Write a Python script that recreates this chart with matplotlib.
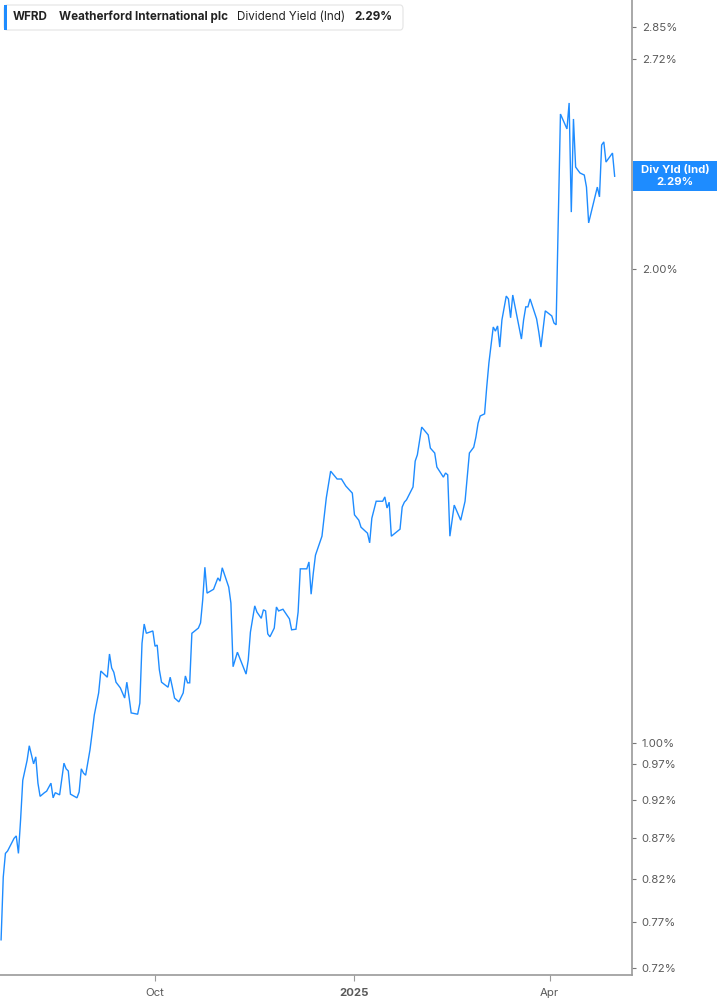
import matplotlib
matplotlib.use("Agg")
import matplotlib.pyplot as plt
import matplotlib.dates as mdates
from matplotlib.patches import FancyBboxPatch, Rectangle
from matplotlib.ticker import FixedLocator, NullLocator
import pandas as pd

plt.rcParams['font.family'] = ['Inter', 'DejaVu Sans']

# dividend yield (ind), percent
dates = [
    "2024-07-22", "2024-07-23", "2024-07-24", "2024-07-25", "2024-07-28", "2024-07-29",
    "2024-07-30", "2024-07-31", "2024-08-01", "2024-08-03", "2024-08-04", "2024-08-06",
    "2024-08-07", "2024-08-08", "2024-08-09", "2024-08-11", "2024-08-12", "2024-08-14",
    "2024-08-15", "2024-08-16", "2024-08-18", "2024-08-20", "2024-08-21", "2024-08-22",
    "2024-08-23", "2024-08-26", "2024-08-27", "2024-08-28", "2024-08-29", "2024-08-30",
    "2024-09-01", "2024-09-02", "2024-09-03", "2024-09-05", "2024-09-06", "2024-09-09",
    "2024-09-10", "2024-09-11", "2024-09-12", "2024-09-13", "2024-09-15", "2024-09-17",
    "2024-09-18", "2024-09-19", "2024-09-20", "2024-09-23", "2024-09-24", "2024-09-25",
    "2024-09-26", "2024-09-27", "2024-09-30", "2024-10-01", "2024-10-02", "2024-10-03",
    "2024-10-04", "2024-10-07", "2024-10-08", "2024-10-09", "2024-10-10", "2024-10-12",
    "2024-10-14", "2024-10-15", "2024-10-16", "2024-10-17", "2024-10-18", "2024-10-21",
    "2024-10-22", "2024-10-23", "2024-10-24", "2024-10-25", "2024-10-28", "2024-10-30",
    "2024-10-31", "2024-11-01", "2024-11-04", "2024-11-05", "2024-11-06", "2024-11-08",
    "2024-11-10", "2024-11-12", "2024-11-13", "2024-11-14", "2024-11-16", "2024-11-17",
    "2024-11-19", "2024-11-20", "2024-11-21", "2024-11-22", "2024-11-23", "2024-11-25",
    "2024-11-26", "2024-11-27", "2024-11-29", "2024-12-02", "2024-12-03", "2024-12-05",
    "2024-12-06", "2024-12-07", "2024-12-10", "2024-12-11", "2024-12-12", "2024-12-13",
    "2024-12-14", "2024-12-17", "2024-12-19", "2024-12-21", "2024-12-24", "2024-12-26",
    "2024-12-28", "2024-12-31", "2025-01-01", "2025-01-03", "2025-01-04", "2025-01-07",
    "2025-01-08", "2025-01-09", "2025-01-11", "2025-01-14", "2025-01-15", "2025-01-16",
    "2025-01-17", "2025-01-18", "2025-01-22", "2025-01-23", "2025-01-24", "2025-01-25",
    "2025-01-28", "2025-01-29", "2025-01-30", "2025-02-01", "2025-02-04", "2025-02-05",
    "2025-02-07", "2025-02-08", "2025-02-11", "2025-02-12", "2025-02-13", "2025-02-14",
    "2025-02-16", "2025-02-19", "2025-02-21", "2025-02-23", "2025-02-25", "2025-02-26",
    "2025-02-27", "2025-02-28", "2025-03-02", "2025-03-03", "2025-03-04", "2025-03-06",
    "2025-03-07", "2025-03-08", "2025-03-09", "2025-03-10", "2025-03-12", "2025-03-13",
    "2025-03-14", "2025-03-15", "2025-03-19", "2025-03-20", "2025-03-21", "2025-03-22",
    "2025-03-23", "2025-03-26", "2025-03-27", "2025-03-28", "2025-03-30", "2025-04-02",
    "2025-04-03", "2025-04-04", "2025-04-06", "2025-04-09", "2025-04-10", "2025-04-11",
    "2025-04-12", "2025-04-13", "2025-04-15", "2025-04-17", "2025-04-18", "2025-04-19",
    "2025-04-22", "2025-04-23", "2025-04-24", "2025-04-25", "2025-04-26", "2025-04-27",
    "2025-04-30", "2025-05-01",
]
yields = [
    0.750, 0.822, 0.851, 0.854, 0.870, 0.873, 0.851, 0.894, 0.947, 0.975, 0.996, 0.970,
    0.980, 0.943, 0.925, 0.930, 0.932, 0.943, 0.923, 0.930, 0.927, 0.971, 0.963, 0.960,
    0.928, 0.923, 0.931, 0.963, 0.957, 0.954, 0.990, 1.015, 1.042, 1.076, 1.111, 1.101,
    1.139, 1.116, 1.109, 1.093, 1.084, 1.068, 1.093, 1.070, 1.045, 1.043, 1.060, 1.157,
    1.190, 1.174, 1.178, 1.152, 1.154, 1.113, 1.093, 1.085, 1.101, 1.085, 1.068, 1.062,
    1.076, 1.103, 1.092, 1.092, 1.174, 1.183, 1.192, 1.233, 1.293, 1.245, 1.252, 1.273,
    1.267, 1.292, 1.256, 1.227, 1.118, 1.142, 1.124, 1.106, 1.129, 1.176, 1.222, 1.211,
    1.200, 1.215, 1.213, 1.173, 1.168, 1.183, 1.220, 1.213, 1.216, 1.199, 1.180, 1.181,
    1.211, 1.290, 1.290, 1.303, 1.243, 1.282, 1.316, 1.353, 1.431, 1.488, 1.471, 1.471,
    1.456, 1.441, 1.396, 1.385, 1.371, 1.359, 1.340, 1.389, 1.424, 1.424, 1.433, 1.410,
    1.422, 1.353, 1.367, 1.412, 1.422, 1.427, 1.454, 1.510, 1.524, 1.587, 1.569, 1.539,
    1.528, 1.497, 1.475, 1.484, 1.480, 1.353, 1.416, 1.385, 1.424, 1.528, 1.541, 1.564,
    1.596, 1.613, 1.618, 1.683, 1.743, 1.837, 1.826, 1.840, 1.784, 1.856, 1.922, 1.914,
    1.862, 1.925, 1.805, 1.856, 1.892, 1.892, 1.914, 1.859, 1.824, 1.784, 1.881, 1.867,
    1.848, 1.843, 2.508, 2.454, 2.549, 2.173, 2.490, 2.321, 2.301, 2.294, 2.254, 2.139,
    2.225, 2.254, 2.222, 2.397, 2.408, 2.338, 2.369, 2.290,
]

ytick_vals = [0.72, 0.77, 0.82, 0.87, 0.92, 0.97, 1.00, 2.00, 2.72, 2.85]
xtick_dates = ["2024-10-01", "2025-01-01", "2025-04-01"]
xtick_labels = ["Oct", "2025", "Apr"]

line_color = "#1e8cff"
axis_color = "#9a9a9a"
text_color = "#5a5a5a"

W, H = 717, 1005
fig = plt.figure(figsize=(W / 100, H / 100), dpi=100)
ax = fig.add_axes([0, 1 - 975 / H, 632 / W, 975 / H])

x = pd.to_datetime(dates)
ax.plot(x, yields, color=line_color, lw=1.0, solid_joinstyle="miter")

ax.set_yscale("log")
ax.set_ylim(0.7124, 2.963)
ax.set_xlim(pd.Timestamp("2024-07-21 12:00"), pd.Timestamp("2025-05-09"))

ax.yaxis.tick_right()
ax.yaxis.set_major_locator(FixedLocator(ytick_vals))
ax.yaxis.set_minor_locator(NullLocator())
ax.set_yticklabels([f"{v:.2f}%" for v in ytick_vals])
ax.tick_params(axis="y", which="major", length=3, width=0.8, color="#777777",
               labelsize=8.2, labelcolor=text_color, pad=4)

ax.set_xticks(pd.to_datetime(xtick_dates))
ax.set_xticklabels(xtick_labels)
ax.xaxis.set_minor_locator(NullLocator())
ax.tick_params(axis="x", length=4, width=0.8, color=axis_color,
               labelsize=8.2, labelcolor=text_color, pad=5)
for lbl in ax.get_xticklabels():
    if lbl.get_text() == "2025":
        lbl.set_fontweight("bold")

for side in ["top", "left"]:
    ax.spines[side].set_visible(False)
for side in ["right", "bottom"]:
    ax.spines[side].set_color(axis_color)
    ax.spines[side].set_linewidth(1.2)

# last value tag on the right axis
last = yields[-1]
tag_y = ax.transData.transform((mdates.date2num(x[-1]), last))[1]
tag_fy = tag_y / (H)
fig.patches.append(Rectangle((633 / W, tag_fy - 15 / H), 84 / W, 30 / H,
                             transform=fig.transFigure, facecolor="#1e8cff",
                             edgecolor="none"))
fig.text(675 / W, tag_fy + 6 / H, "Div Yld (Ind)", color="white", fontsize=8.2,
         fontweight="bold", ha="center", va="center")
fig.text(675 / W, tag_fy - 6 / H, f"{last:.2f}%", color="white", fontsize=8.2,
         fontweight="bold", ha="center", va="center")

# legend header box
fig.patches.append(FancyBboxPatch((4 / W, 1 - 30 / H), 399 / W, 25 / H,
                                  boxstyle="round,pad=0,rounding_size=0.004",
                                  transform=fig.transFigure, facecolor="white",
                                  edgecolor="#e4e4e4", lw=0.8))
fig.patches.append(Rectangle((4 / W, 1 - 30 / H), 3 / W, 25 / H,
                             transform=fig.transFigure, facecolor="#1e8cff",
                             edgecolor="none"))
hy = 1 - 17 / H
fs = 8.4
fig.text(13 / W, hy, "WFRD", fontsize=fs, fontweight="bold", color="#222222", va="center")
fig.text(59 / W, hy, "Weatherford International plc", fontsize=fs, fontweight="bold",
         color="#222222", va="center")
fig.text(237 / W, hy, "Dividend Yield (Ind)", fontsize=fs, color="#222222", va="center")
fig.text(354 / W, hy, f"{last:.2f}%", fontsize=fs, fontweight="bold", color="#222222",
         va="center")

fig.savefig("out.png", dpi=100)
